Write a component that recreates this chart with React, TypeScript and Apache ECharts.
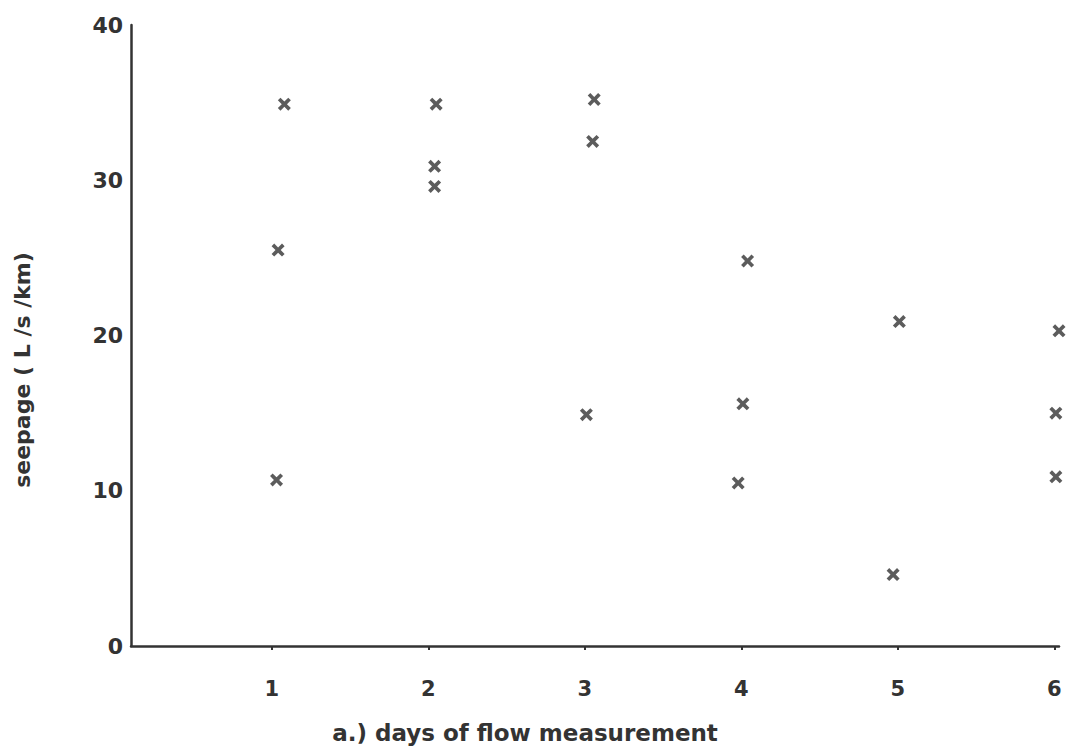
import React, { useEffect, useRef } from "react";
import * as echarts from "echarts";

const xTicks = [1, 2, 3, 4, 5, 6];
const yTicks = [0, 10, 20, 30, 40];
const days = [1.08, 1.04, 1.03, 2.05, 2.04, 2.04, 3.06, 3.05, 3.01, 4.04, 4.01, 3.98, 5.01, 4.97, 6.03, 6.01, 6.01];
const seepage = [34.9, 25.5, 10.7, 34.9, 30.9, 29.6, 35.2, 32.5, 14.9, 24.8, 15.6, 10.5, 20.9, 4.6, 20.3, 15.0, 10.9];

const xName = "a.) days of flow measurement";
const yName = "seepage ( L /s /km)";

const crossPath =
  "path://M2,0 L5,3 L8,0 L10,2 L7,5 L10,8 L8,10 L5,7 L2,10 L0,8 L3,5 L0,2 Z";

export default function App() {
  const ref = useRef<HTMLDivElement>(null);
  useEffect(() => {
    const chart = echarts.init(ref.current!, undefined, { renderer: "svg" });
    const ink = "#333333";
    const font = "DejaVu Sans";
    chart.setOption({
      animation: false,
      backgroundColor: "#ffffff",
      grid: { left: 131, right: 12, top: 25, bottom: 102 },
      graphic: [
        {
          type: "text",
          x: 22,
          y: 370,
          rotation: Math.PI / 2,
          style: {
            text: yName,
            fill: ink,
            font: `bold 22px "${font}"`,
            align: "center",
            verticalAlign: "middle",
          },
        },
      ],
      xAxis: {
        type: "value",
        min: 0.1,
        max: 6.03,
        name: xName,
        nameLocation: "middle",
        nameGap: 75,
        nameTextStyle: { color: ink, fontFamily: font, fontWeight: "bold", fontSize: 23, padding: [0, 140, 0, 0] },
        axisLine: { show: true, lineStyle: { color: ink, width: 2.5 } },
        axisTick: { show: true, customValues: xTicks, length: 4, lineStyle: { color: ink, width: 2 } },
        axisLabel: {
          customValues: xTicks,
          color: ink,
          fontFamily: font,
          fontWeight: "bold",
          fontSize: 21,
          margin: 32,
        },
        splitLine: { show: false },
      },
      yAxis: {
        type: "value",
        min: 0,
        max: 40,
        interval: 10,
        axisLine: { show: true, lineStyle: { color: ink, width: 2.5 } },
        axisTick: { show: false },
        axisLabel: {
          color: ink,
          fontFamily: font,
          fontWeight: "bold",
          fontSize: 22,
          margin: 8,
        },
        splitLine: { show: false },
      },
      series: [
        {
          type: "scatter",
          clip: false,
          symbol: crossPath,
          symbolSize: 13,
          itemStyle: { color: "#333333" },
          data: days.map((d, i) => [d, seepage[i]]),
        },
      ],
    });
    return () => chart.dispose();
  }, []);
  return (
    <div
      ref={ref}
      style={{ position: "absolute", left: 0, top: 0, width: 1071, height: 749 }}
    />
  );
}
